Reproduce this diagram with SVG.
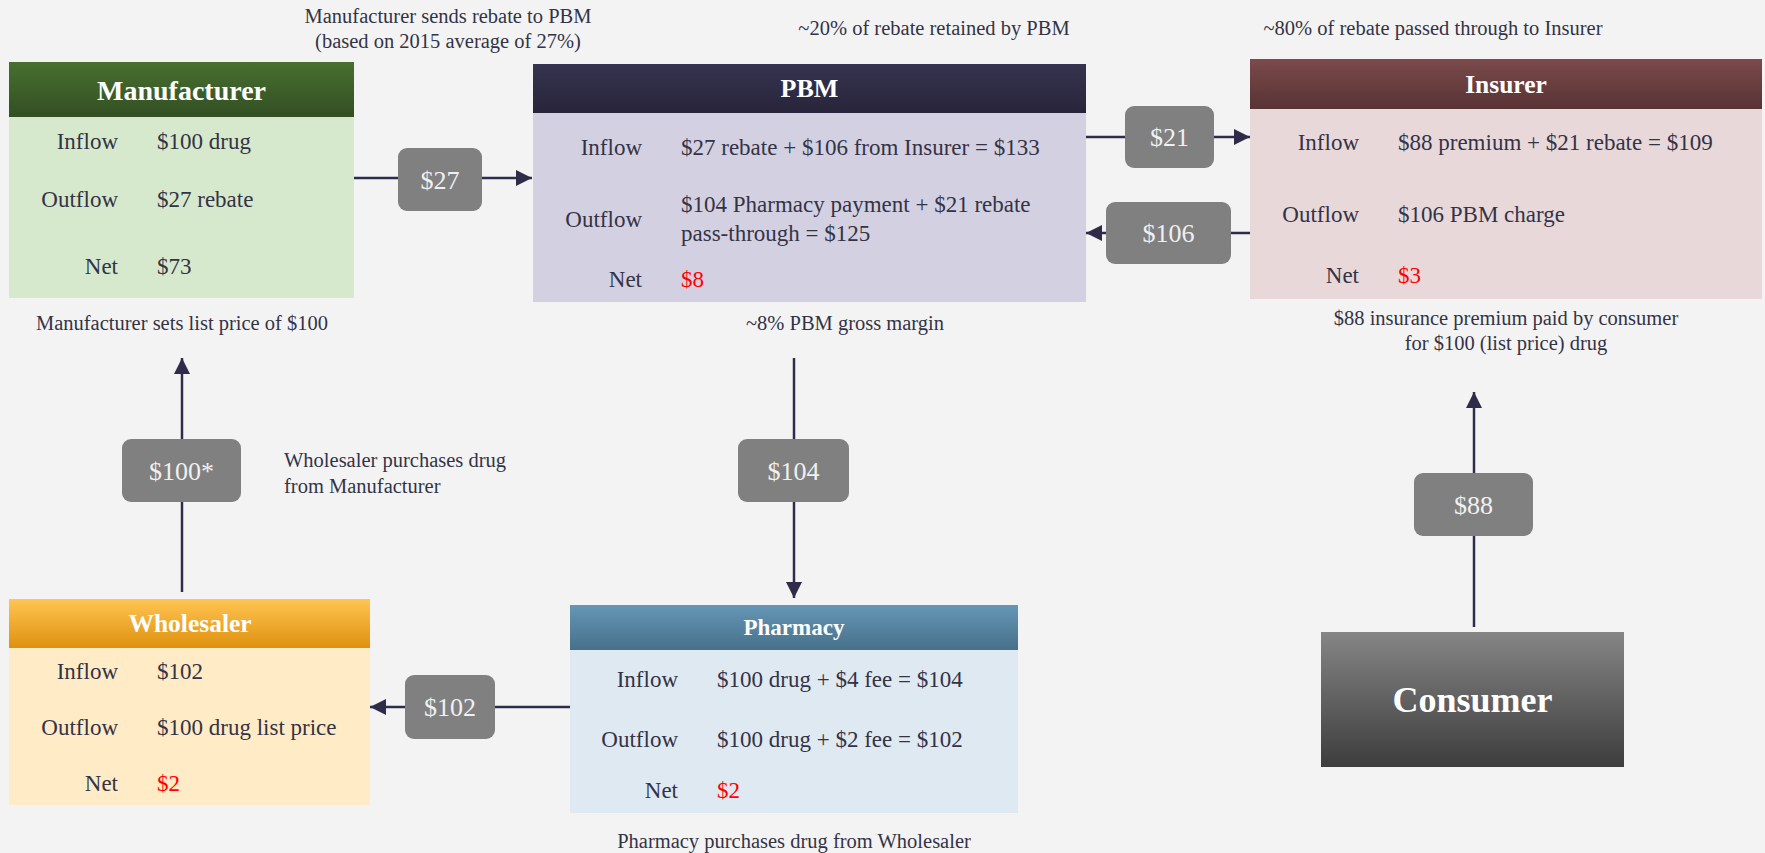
<svg xmlns="http://www.w3.org/2000/svg" width="1765" height="853" viewBox="0 0 1765 853">
<defs>
<linearGradient id="gMan" x1="0" y1="0" x2="0" y2="1"><stop offset="0" stop-color="#47702f"/><stop offset="1" stop-color="#334f23"/></linearGradient>
<linearGradient id="gPbm" x1="0" y1="0" x2="0" y2="1"><stop offset="0" stop-color="#36334f"/><stop offset="1" stop-color="#27243a"/></linearGradient>
<linearGradient id="gIns" x1="0" y1="0" x2="0" y2="1"><stop offset="0" stop-color="#7b4a4c"/><stop offset="1" stop-color="#583334"/></linearGradient>
<linearGradient id="gWho" x1="0" y1="0" x2="0" y2="1"><stop offset="0" stop-color="#ffc553"/><stop offset="1" stop-color="#df910e"/></linearGradient>
<linearGradient id="gPha" x1="0" y1="0" x2="0" y2="1"><stop offset="0" stop-color="#6597b6"/><stop offset="1" stop-color="#46708a"/></linearGradient>
<linearGradient id="gCon" x1="0" y1="0" x2="0" y2="1"><stop offset="0" stop-color="#858585"/><stop offset="1" stop-color="#3d3d3d"/></linearGradient>
<marker id="arr" markerUnits="userSpaceOnUse" markerWidth="16" markerHeight="16" refX="16" refY="8" orient="auto" viewBox="0 0 16 16"><path d="M0,0 L16,8 L0,16 z" fill="#2e2c48"/></marker>
</defs>
<style>
text{font-family:"Liberation Serif","Times New Roman",serif;}
.t{fill:#ffffff;font-weight:bold;text-anchor:middle;}
.lb{fill:#333346;font-size:23px;text-anchor:end;}
.v{fill:#333346;font-size:23px;}
.red{fill:#ff0000;}
.cap{fill:#333346;font-size:20.5px;text-anchor:middle;}
.capl{fill:#333346;font-size:20.5px;}
.conn{stroke:#2e2c48;stroke-width:2.5;fill:none;marker-end:url(#arr);}
.tag{fill:#808080;}
.tagt{fill:#f0f0f0;font-size:26px;text-anchor:middle;}
</style>
<rect width="1765" height="853" fill="#f3f3f3"/>

<g id="connectors">
<line class="conn" x1="354" y1="178" x2="532" y2="178"/>
<line class="conn" x1="1086" y1="137" x2="1250" y2="137"/>
<line class="conn" x1="1250" y1="233" x2="1086" y2="233"/>
<line class="conn" x1="794" y1="358" x2="794" y2="598"/>
<line class="conn" x1="570" y1="707" x2="370" y2="707"/>
<line class="conn" x1="182" y1="592" x2="182" y2="358"/>
<line class="conn" x1="1474" y1="627" x2="1474" y2="392"/>
<rect class="tag" x="398" y="148" width="84" height="63" rx="9"/>
<text class="tagt" x="440" y="189">$27</text>
<rect class="tag" x="1125" y="106" width="89" height="62" rx="9"/>
<text class="tagt" x="1169.5" y="146">$21</text>
<rect class="tag" x="1106" y="202" width="125" height="62" rx="9"/>
<text class="tagt" x="1168.5" y="242">$106</text>
<rect class="tag" x="738" y="439" width="111" height="63" rx="9"/>
<text class="tagt" x="793.5" y="480">$104</text>
<rect class="tag" x="122" y="439" width="119" height="63" rx="9"/>
<text class="tagt" x="181.5" y="480">$100*</text>
<rect class="tag" x="405" y="675" width="90" height="64" rx="9"/>
<text class="tagt" x="450" y="716">$102</text>
<rect class="tag" x="1414" y="473" width="119" height="63" rx="9"/>
<text class="tagt" x="1473.5" y="514">$88</text>
</g>

<g id="manufacturer">
<rect x="9" y="117" width="345" height="181" fill="#d6e9cc"/>
<rect x="9" y="62" width="345" height="55" fill="url(#gMan)"/>
<text class="t" x="181.5" y="100" font-size="28">Manufacturer</text>
<text class="lb" x="118" y="149">Inflow</text><text class="v" x="157" y="149">$100 drug</text>
<text class="lb" x="118" y="207">Outflow</text><text class="v" x="157" y="207">$27 rebate</text>
<text class="lb" x="118" y="274">Net</text><text class="v" x="157" y="274">$73</text>
</g>

<g id="pbm">
<rect x="533" y="113" width="553" height="189" fill="#d3d0e1"/>
<rect x="533" y="64" width="553" height="49" fill="url(#gPbm)"/>
<text class="t" x="809.5" y="97" font-size="26">PBM</text>
<text class="lb" x="642" y="155">Inflow</text><text class="v" x="681" y="155">$27 rebate + $106 from Insurer = $133</text>
<text class="lb" x="642" y="227">Outflow</text>
<text class="v" x="681" y="212">$104 Pharmacy payment + $21 rebate</text>
<text class="v" x="681" y="241">pass-through = $125</text>
<text class="lb" x="642" y="287">Net</text><text class="v red" x="681" y="287">$8</text>
</g>

<g id="insurer">
<rect x="1250" y="109" width="512" height="190" fill="#e8d8da"/>
<rect x="1250" y="59" width="512" height="50" fill="url(#gIns)"/>
<text class="t" x="1506" y="93" font-size="25.5">Insurer</text>
<text class="lb" x="1359" y="150">Inflow</text><text class="v" x="1398" y="150">$88 premium + $21 rebate = $109</text>
<text class="lb" x="1359" y="222">Outflow</text><text class="v" x="1398" y="222">$106 PBM charge</text>
<text class="lb" x="1359" y="283">Net</text><text class="v red" x="1398" y="283">$3</text>
</g>

<g id="wholesaler">
<rect x="9" y="648" width="361" height="157" fill="#ffebc5"/>
<rect x="9" y="599" width="361" height="49" fill="url(#gWho)"/>
<text class="t" x="190" y="632" font-size="25.5">Wholesaler</text>
<text class="lb" x="118" y="679">Inflow</text><text class="v" x="157" y="679">$102</text>
<text class="lb" x="118" y="735">Outflow</text><text class="v" x="157" y="735">$100 drug list price</text>
<text class="lb" x="118" y="791">Net</text><text class="v red" x="157" y="791">$2</text>
</g>

<g id="pharmacy">
<rect x="570" y="650" width="448" height="163" fill="#dfe9f1"/>
<rect x="570" y="605" width="448" height="45" fill="url(#gPha)"/>
<text class="t" x="794" y="635" font-size="23">Pharmacy</text>
<text class="lb" x="678" y="687">Inflow</text><text class="v" x="717" y="687">$100 drug + $4 fee = $104</text>
<text class="lb" x="678" y="747">Outflow</text><text class="v" x="717" y="747">$100 drug + $2 fee = $102</text>
<text class="lb" x="678" y="798">Net</text><text class="v red" x="717" y="798">$2</text>
</g>

<g id="consumer">
<rect x="1321" y="632" width="303" height="135" fill="url(#gCon)"/>
<text class="t" x="1472.5" y="712" font-size="36">Consumer</text>
</g>

<g id="captions">
<text class="cap" x="448" y="23">Manufacturer sends rebate to PBM</text>
<text class="cap" x="448" y="48">(based on 2015 average of 27%)</text>
<text class="cap" x="934" y="35">~20% of rebate retained by PBM</text>
<text class="cap" x="1433" y="35">~80% of rebate passed through to Insurer</text>
<text class="cap" x="182" y="330">Manufacturer sets list price of $100</text>
<text class="cap" x="845" y="330">~8% PBM gross margin</text>
<text class="cap" x="1506" y="325">$88 insurance premium paid by consumer</text>
<text class="cap" x="1506" y="350">for $100 (list price) drug</text>
<text class="capl" x="284" y="467">Wholesaler purchases drug</text>
<text class="capl" x="284" y="493">from Manufacturer</text>
<text class="cap" x="794" y="848">Pharmacy purchases drug from Wholesaler</text>
</g>
</svg>
